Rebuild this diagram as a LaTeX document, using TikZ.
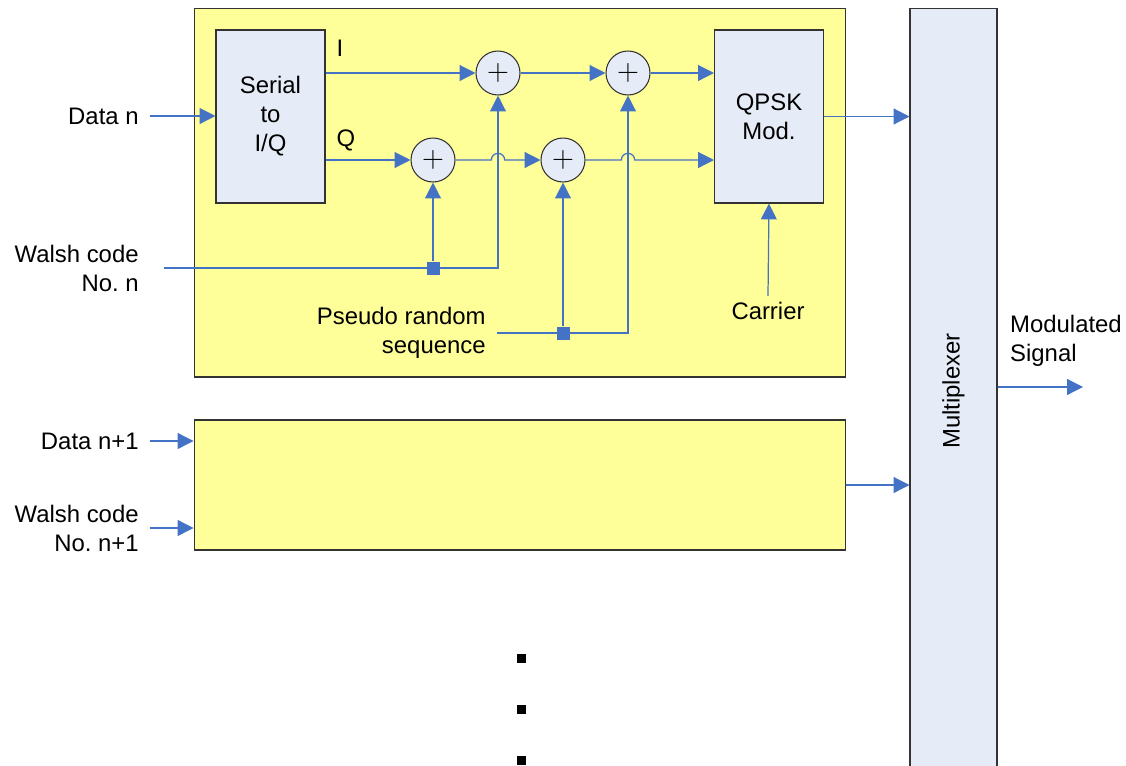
\documentclass[tikz,border=0pt]{standalone}
\usepackage{fontspec}
\setmainfont{Liberation Sans}
\usetikzlibrary{arrows.meta,positioning}

\definecolor{padyellow}{HTML}{FFFF99}
\definecolor{blockblue}{HTML}{E6ECF7}
\definecolor{wireblue}{HTML}{4472C4}

\frenchspacing

\begin{document}
\begin{tikzpicture}[
    x=0.02cm,
    y=-0.02cm,
    >={Triangle[length=9pt,width=9pt]},
    font=\fontsize{13.6}{16.5}\selectfont,
    panel/.style={
        draw=black!80,
        fill=padyellow,
        line width=0.6pt,
        minimum width=13.04cm
    },
    block/.style={
        draw=black!80,
        fill=blockblue,
        line width=0.6pt,
        minimum width=2.18cm,
        minimum height=3.46cm,
        align=center
    },
    adder/.style={
        circle,
        draw=black!80,
        fill=blockblue,
        line width=0.6pt,
        minimum size=0.88cm,
        inner sep=0pt,
        font=\fontsize{19}{19}\selectfont
    },
    wire/.style={
        draw=wireblue,
        line width=0.7pt
    },
    arr/.style={
        wire,
        ->
    },
    tap/.style={
        fill=wireblue,
        minimum size=0.26cm,
        inner sep=0pt
    },
    dot/.style={
        fill=black,
        minimum size=0.18cm,
        inner sep=0pt
    },
    lbl/.style={
        align=right,
        anchor=east,
        inner sep=4pt
    }
]

    \clip (0,0) rectangle (1126,765);

    % channel panels
    \node[panel, minimum height=7.38cm] (chanA) at (520,192.5) {};
    \node[panel, minimum height=2.6cm] (chanB) at (520,485) {};

    % multiplexer
    \node[
        block,
        minimum width=1.74cm,
        minimum height=15.32cm
    ] (mux) at (953.5,391) {\rotatebox{90}{Multiplexer}};

    % blocks of channel n
    \node[block] (serial) at (270.5,116.5)
        {Serial\\to\\I/Q};
    \node[block] (qpsk) at (769,116.5)
        {QPSK\\Mod.};

    \node[adder] (addIW) at (498,73) {$+$};
    \node[adder] (addIP) at (628,73) {$+$};
    \node[adder] (addQW) at (433,160) {$+$};
    \node[adder] (addQP) at (563,160) {$+$};

    \node[tap] (tapW) at (433,268) {};
    \node[tap] (tapP) at (563,333) {};

    % labels
    \node[lbl] (dataA) at (146,116) {Data n};
    \node[lbl] (walshA) at (146,268) {Walsh code\\No. n};
    \node[lbl] (prs) at (493,333) {Pseudo random\\sequence};
    \node (carrier) at (768,311) {Carrier};
    \node (labI) at (340,48) {I};
    \node (labQ) at (346,140) {Q};
    \node[lbl] (dataB) at (146,441) {Data n+1};
    \node[lbl] (walshB) at (146,528) {Walsh code\\No. n+1};
    \node[align=left, anchor=west] (modsig) at (1004,341)
        {Modulated\\Signal};

    \coordinate (sigOut) at (1083,387);
    \coordinate (hopA) at (addQW.east -| addIW.center);
    \coordinate (hopB) at (addQP.east -| addIP.center);

    % channel n wiring
    \draw[arr] ([xshift=2pt]dataA.east) -- (serial.west |- dataA.east);
    \draw[arr] (serial.east |- addIW) -- (addIW.west);
    \draw[arr] (serial.east |- addQW) -- (addQW.west);
    \draw[arr] (addIW.east) -- (addIP.west);
    \draw[arr] (addIP.east) -- (qpsk.west |- addIP);
    \draw[arr]
        (addQW.east)
        -- ([xshift=-3.8pt]hopA)
        arc[start angle=180, end angle=0, radius=3.8pt]
        -- (addQP.west);
    \draw[arr]
        (addQP.east)
        -- ([xshift=-3.8pt]hopB)
        arc[start angle=180, end angle=0, radius=3.8pt]
        -- (qpsk.west |- addQP);

    \draw[arr] ([xshift=10pt]walshA.east) -- (addIW |- tapW) -- (addIW.south);
    \draw[arr] (tapW) -- (addQW.south);
    \draw[arr] ([xshift=2pt]prs.east) -- (addIP |- tapP) -- (addIP.south);
    \draw[arr] (tapP) -- (addQP.south);
    \draw[arr] (carrier.north) -- (qpsk.south);

    \node[tap] at (tapW) {};
    \node[tap] at (tapP) {};

    % into the multiplexer
    \draw[arr] (qpsk.east) -- (mux.west |- qpsk.east);
    \draw[arr] (chanB.east) -- (mux.west |- chanB.east);
    \draw[arr] (mux.east |- sigOut) -- (sigOut);

    % channel n+1 inputs
    \draw[arr] ([xshift=2pt]dataB.east) -- (chanB.west |- dataB.east);
    \draw[arr] ([xshift=2pt]walshB.east) -- (chanB.west |- walshB.east);

    % more channels
    \node[dot] (dotA) at (521,658) {};
    \node[dot] (dotB) at (521,709) {};
    \node[dot] (dotC) at (521,760) {};

\end{tikzpicture}
\end{document}
